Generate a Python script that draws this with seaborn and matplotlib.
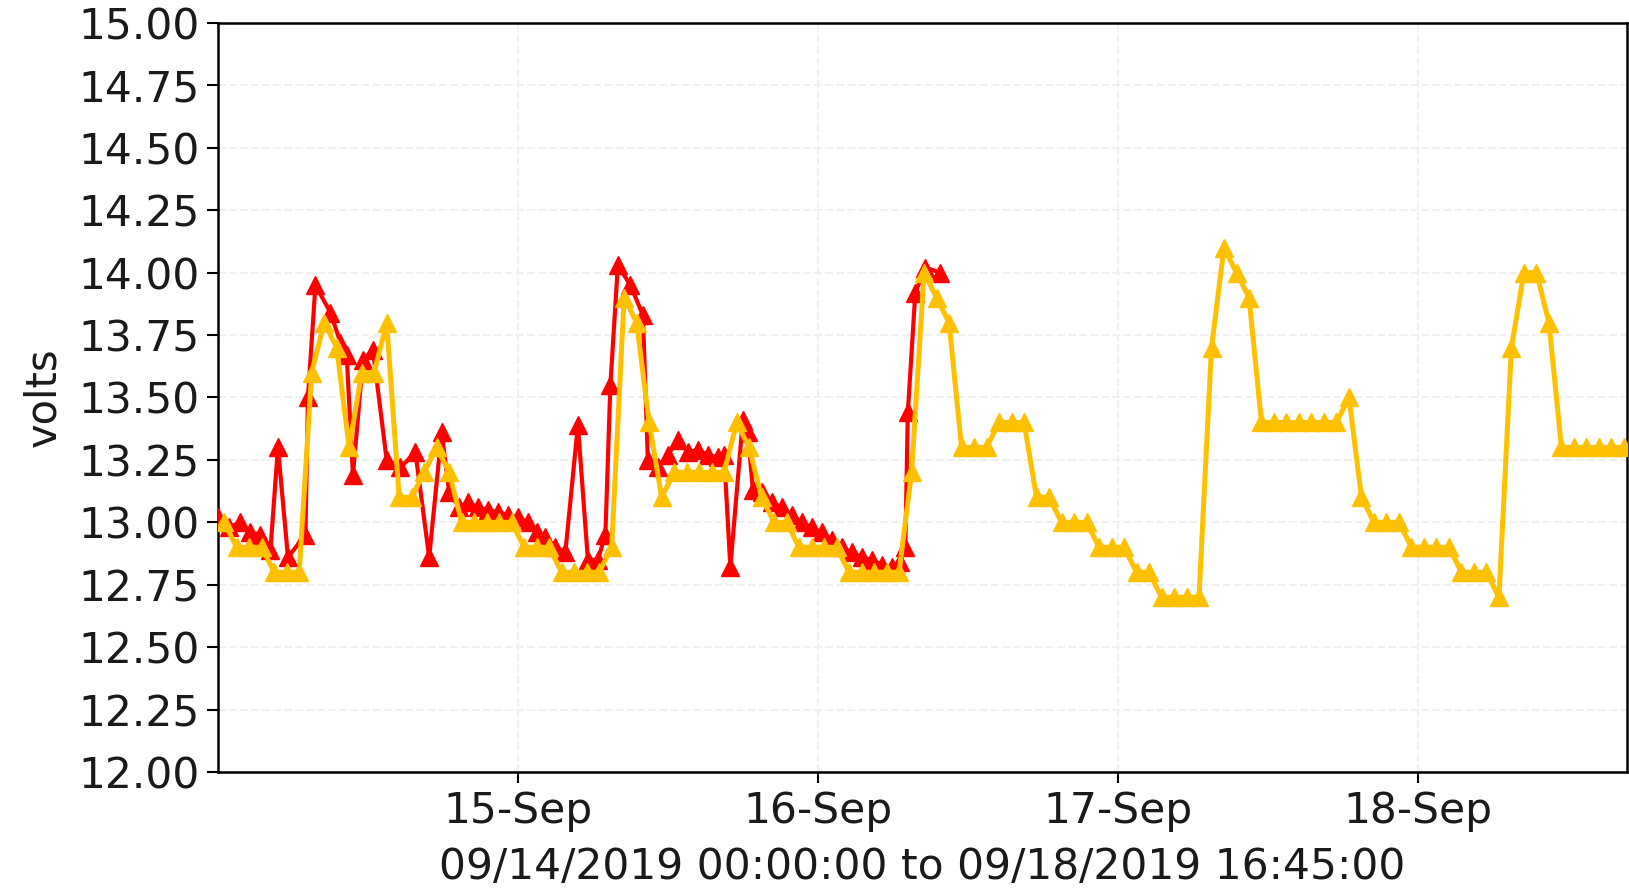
import matplotlib
matplotlib.use("Agg")
import matplotlib.pyplot as plt
import matplotlib.dates as mdates
import numpy as np
import pandas as pd
import seaborn as sns

# ---------------- data ----------------
start = pd.Timestamp("2019-09-14 00:00:00")
end = pd.Timestamp("2019-09-18 16:45:00")

# red series: (hours after start, volts)
red_hours = [0.0, 0.9, 1.8, 2.6, 3.4, 4.2, 4.8, 5.6, 7.0, 7.2, 7.8, 9.0, 9.8, 10.3,
             10.8, 11.6, 12.4, 13.5, 14.6, 15.8, 16.9, 17.9, 18.5, 19.3, 20.0, 20.8,
             21.6, 22.4, 23.2, 24.0, 24.8, 25.5, 26.2, 27.0, 27.8, 28.8, 29.6, 30.4,
             31.0, 31.4, 32.0, 33.0, 34.0, 34.4, 35.2, 36.0, 36.8, 37.6, 38.4, 39.2,
             40.0, 40.5, 41.0, 42.0, 42.4, 42.8, 43.5, 44.3, 45.1, 45.9, 46.7, 47.5,
             48.3, 49.1, 49.9, 50.7, 51.5, 52.3, 53.1, 53.9, 54.6, 55.0, 55.2, 55.8,
             56.6, 57.8]
red_volts = [13.02, 12.98, 13.00, 12.96, 12.95, 12.89, 13.30, 12.86, 12.95, 13.50, 13.95,
             13.84, 13.72, 13.67, 13.19, 13.65, 13.69, 13.25, 13.22, 13.28, 12.86, 13.36,
             13.12, 13.06, 13.08, 13.06, 13.05, 13.04, 13.03, 13.02, 13.00, 12.96, 12.94,
             12.90, 12.88, 13.39, 12.85, 12.85, 12.95, 13.55, 14.03, 13.95, 13.83, 13.25,
             13.22, 13.27, 13.33, 13.28, 13.29, 13.27, 13.26, 13.27, 12.82, 13.41, 13.36,
             13.13, 13.12, 13.08, 13.06, 13.03, 13.00, 12.98, 12.96, 12.93, 12.90, 12.88,
             12.86, 12.85, 12.83, 12.82, 12.84, 12.90, 13.44, 13.92, 14.02, 14.00]

# yellow series: hourly readings at :30
yellow_volts = [13.0, 12.9, 12.9, 12.9, 12.8, 12.8, 12.8, 13.6, 13.8, 13.7,
                13.3, 13.6, 13.6, 13.8, 13.1, 13.1, 13.2, 13.3, 13.2,
                13.0, 13.0, 13.0, 13.0, 13.0,
                12.9, 12.9, 12.9,
                12.8, 12.8, 12.8, 12.8,
                12.9, 13.9, 13.8, 13.4, 13.1,
                13.2, 13.2, 13.2, 13.2, 13.2,
                13.4, 13.3, 13.1,
                13.0, 13.0,
                12.9, 12.9, 12.9, 12.9,
                12.8, 12.8, 12.8, 12.8, 12.8,
                13.2, 14.0, 13.9, 13.8,
                13.3, 13.3, 13.3,
                13.4, 13.4, 13.4,
                13.1, 13.1,
                13.0, 13.0, 13.0,
                12.9, 12.9, 12.9,
                12.8, 12.8,
                12.7, 12.7, 12.7, 12.7,
                13.7, 14.1, 14.0, 13.9,
                13.4, 13.4, 13.4, 13.4, 13.4, 13.4, 13.4,
                13.5, 13.1,
                13.0, 13.0, 13.0,
                12.9, 12.9, 12.9, 12.9,
                12.8, 12.8, 12.8,
                12.7, 13.7, 14.0, 14.0, 13.8,
                13.3, 13.3, 13.3, 13.3, 13.3, 13.3]

yticks = [12.00, 12.25, 12.50, 12.75, 13.00, 13.25, 13.50, 13.75, 14.00, 14.25, 14.50, 14.75, 15.00]
xtick_days = ["2019-09-15", "2019-09-16", "2019-09-17", "2019-09-18"]
xlabel_text = "09/14/2019 00:00:00 to 09/18/2019 16:45:00"
ylabel_text = "volts"

red_df = pd.DataFrame({"time": start + pd.to_timedelta(red_hours, unit="h"), "volts": red_volts})
yellow_df = pd.DataFrame({"time": pd.date_range("2019-09-14 00:30", periods=len(yellow_volts), freq="h"),
                          "volts": yellow_volts})

# ---------------- plot ----------------
sns.set_style("white")
plt.rcParams["font.family"] = ["DejaVu Sans"]

fig = plt.figure(figsize=(16.29, 8.90), dpi=100)
ax = fig.add_axes([0.1338, 0.1326, 0.8650, 0.8416])

RED = "#FF0000"
YEL = "#FFC000"
TXT = "#1a1a1a"

sns.lineplot(data=red_df, x="time", y="volts", ax=ax, color=RED, linewidth=3.0,
             marker="^", markersize=12.5, markeredgecolor=RED, markeredgewidth=1, zorder=3)
sns.lineplot(data=yellow_df, x="time", y="volts", ax=ax, color=YEL, linewidth=3.6,
             marker="^", markersize=12.5, markeredgecolor=YEL, markeredgewidth=1, zorder=4)

ax.set_xlim(start, end)
ax.set_ylim(12.0, 15.0)
ax.set_yticks(yticks)
ax.set_yticklabels([f"{v:.2f}" for v in yticks])
ax.set_xticks(pd.to_datetime(xtick_days))
ax.xaxis.set_major_formatter(mdates.DateFormatter("%d-%b"))

ax.grid(True, color="#f0f0f0", linestyle="--", linewidth=1.5, zorder=0)
ax.set_axisbelow(True)

for s in ax.spines.values():
    s.set_visible(True)
    s.set_color("black")
    s.set_linewidth(1.8)

ax.tick_params(axis="both", which="major", direction="out", length=8, width=1.5,
               labelsize=30.5, color="black", labelcolor=TXT, left=True, bottom=True)
ax.tick_params(axis="y", pad=5)
ax.tick_params(axis="x", pad=5)

ax.set_xlabel(xlabel_text, fontsize=30.5, labelpad=10, color=TXT)
ax.set_ylabel(ylabel_text, fontsize=30, labelpad=10, color=TXT)

fig.savefig("out.png", dpi=100)
